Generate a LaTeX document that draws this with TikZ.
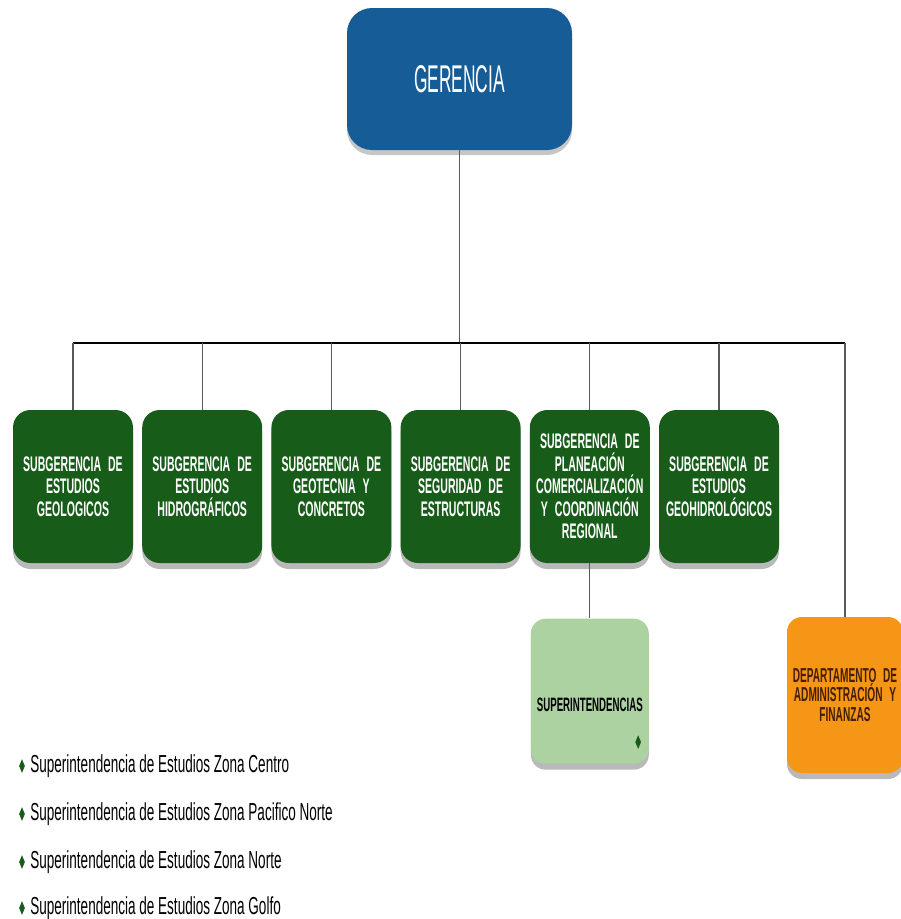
\documentclass[tikz,border=0pt]{standalone}
\usepackage{fontspec}
\setmainfont{Liberation Sans}
\newfontfamily\narrowfont[FakeStretch=0.5, WordSpace=0.6]{Liberation Sans}
\newfontfamily\gerfont[FakeStretch=0.45]{Liberation Sans}
\newfontfamily\listfont[FakeStretch=0.55]{Liberation Sans}
\usepackage{tikz}
\usetikzlibrary{positioning, shapes.geometric, shadows}
\definecolor{gerblue}{RGB}{22,92,150}
\definecolor{subgreen}{RGB}{24,92,26}
\definecolor{supgreen}{RGB}{172,210,162}
\definecolor{deporange}{RGB}{246,150,22}
\definecolor{depbrown}{RGB}{70,30,5}

\begin{document}
\begin{tikzpicture}[node distance=0.17cm,
        gerbox/.style={rectangle, fill=gerblue, rounded corners=0.5cm, minimum width=4.5cm, minimum height=2.84cm, text=white, font=\gerfont\fontsize{22}{24}\selectfont, drop shadow={shadow xshift=0pt, shadow yshift=-0.1cm, opacity=0.45}},
        subbox/.style={rectangle, fill=subgreen, rounded corners=0.35cm, minimum width=2.4cm, minimum height=3.06cm, text width=2.3cm, inner xsep=0.05cm, align=center, text=white, font=\narrowfont\bfseries\fontsize{12}{12.8}\selectfont, drop shadow={shadow xshift=0pt, shadow yshift=-0.12cm, opacity=0.55}},
        supbox/.style={rectangle, fill=supgreen, rounded corners=0.3cm, minimum width=2.36cm, minimum height=2.9cm, drop shadow={shadow xshift=0pt, shadow yshift=-0.12cm, opacity=0.55}},
        depbox/.style={rectangle, fill=deporange, rounded corners=0.3cm, minimum width=2.32cm, minimum height=3.12cm, text width=2.26cm, inner xsep=0.03cm, align=center, text=depbrown, font=\narrowfont\bfseries\fontsize{11.5}{11}\selectfont, drop shadow={shadow xshift=0pt, shadow yshift=-0.12cm, opacity=0.55}},
        gem/.style={diamond, fill=subgreen, inner sep=0pt, minimum width=0.12cm, minimum height=0.28cm},
        item/.style={anchor=west, inner sep=0pt, font=\listfont\fontsize{14}{16}\selectfont},
        line/.style={draw=black!65, line width=0.6pt}]
        \useasboundingbox (0,0) rectangle (18.02,-18.38);

        \node [gerbox] (ger) at (9.19,-1.58) {GERENCIA};
        \coordinate (bus) at (9.19,-6.86);

        \node [subbox] (sub1) at (1.46,-9.73) {SUBGERENCIA DE\\ESTUDIOS\\GEOLOGICOS};
        \node [subbox, right=of sub1] (sub2) {SUBGERENCIA DE\\ESTUDIOS\\HIDROGRÁFICOS};
        \node [subbox, right=of sub2] (sub3) {SUBGERENCIA DE\\GEOTECNIA Y\\CONCRETOS};
        \node [subbox, right=of sub3] (sub4) {SUBGERENCIA DE\\SEGURIDAD DE\\ESTRUCTURAS};
        \node [subbox, right=of sub4] (sub5) {SUBGERENCIA DE\\PLANEACIÓN\\COMERCIALIZACIÓN\\Y COORDINACIÓN\\REGIONAL};
        \node [subbox, right=of sub5] (sub6) {SUBGERENCIA DE\\ESTUDIOS\\GEOHIDROLÓGICOS};

        \node [supbox, below=1.1cm of sub5] (sup) {};
        \node [font=\narrowfont\bfseries\fontsize{11}{11}\selectfont, text=black] (suptext) at ([yshift=-0.28cm]sup.center) {SUPERINTENDENCIAS};
        \node [gem] (supgem) at ([xshift=-0.22cm, yshift=0.44cm]sup.south east) {};

        \node [depbox] (dep) at (16.9,-13.9) {DEPARTAMENTO DE\\ADMINISTRACIÓN Y\\FINANZAS};

        % lista de superintendencias
        \node [gem] (g1) at (0.44,-15.32) {};
        \node [item] (s1) at (0.6,-15.32) {Superintendencia de Estudios Zona Centro};
        \node [gem] (g2) at (0.44,-16.28) {};
        \node [item] (s2) at (0.6,-16.28) {Superintendencia de Estudios Zona Pacifico Norte};
        \node [gem] (g3) at (0.44,-17.24) {};
        \node [item] (s3) at (0.6,-17.24) {Superintendencia de Estudios Zona Norte};
        \node [gem] (g4) at (0.44,-18.16) {};
        \node [item] (s4) at (0.6,-18.16) {Superintendencia de Estudios Zona Golfo};

        \path [line] (ger.south) -- (bus);
        \path [draw=black, line width=1.1pt] (sub1.north |- bus) -- (dep.north |- bus);
        \path [line] (sub1.north |- bus) -- (sub1.north);
        \path [line] (sub2.north |- bus) -- (sub2.north);
        \path [line] (sub3.north |- bus) -- (sub3.north);
        \path [line] (sub4.north |- bus) -- (sub4.north);
        \path [line] (sub5.north |- bus) -- (sub5.north);
        \path [line] (sub6.north |- bus) -- (sub6.north);
        \path [line] (dep.north |- bus) -- (dep.north);
        \path [line] (sub5.south) -- (sup.north);
    \end{tikzpicture}
\end{document}
